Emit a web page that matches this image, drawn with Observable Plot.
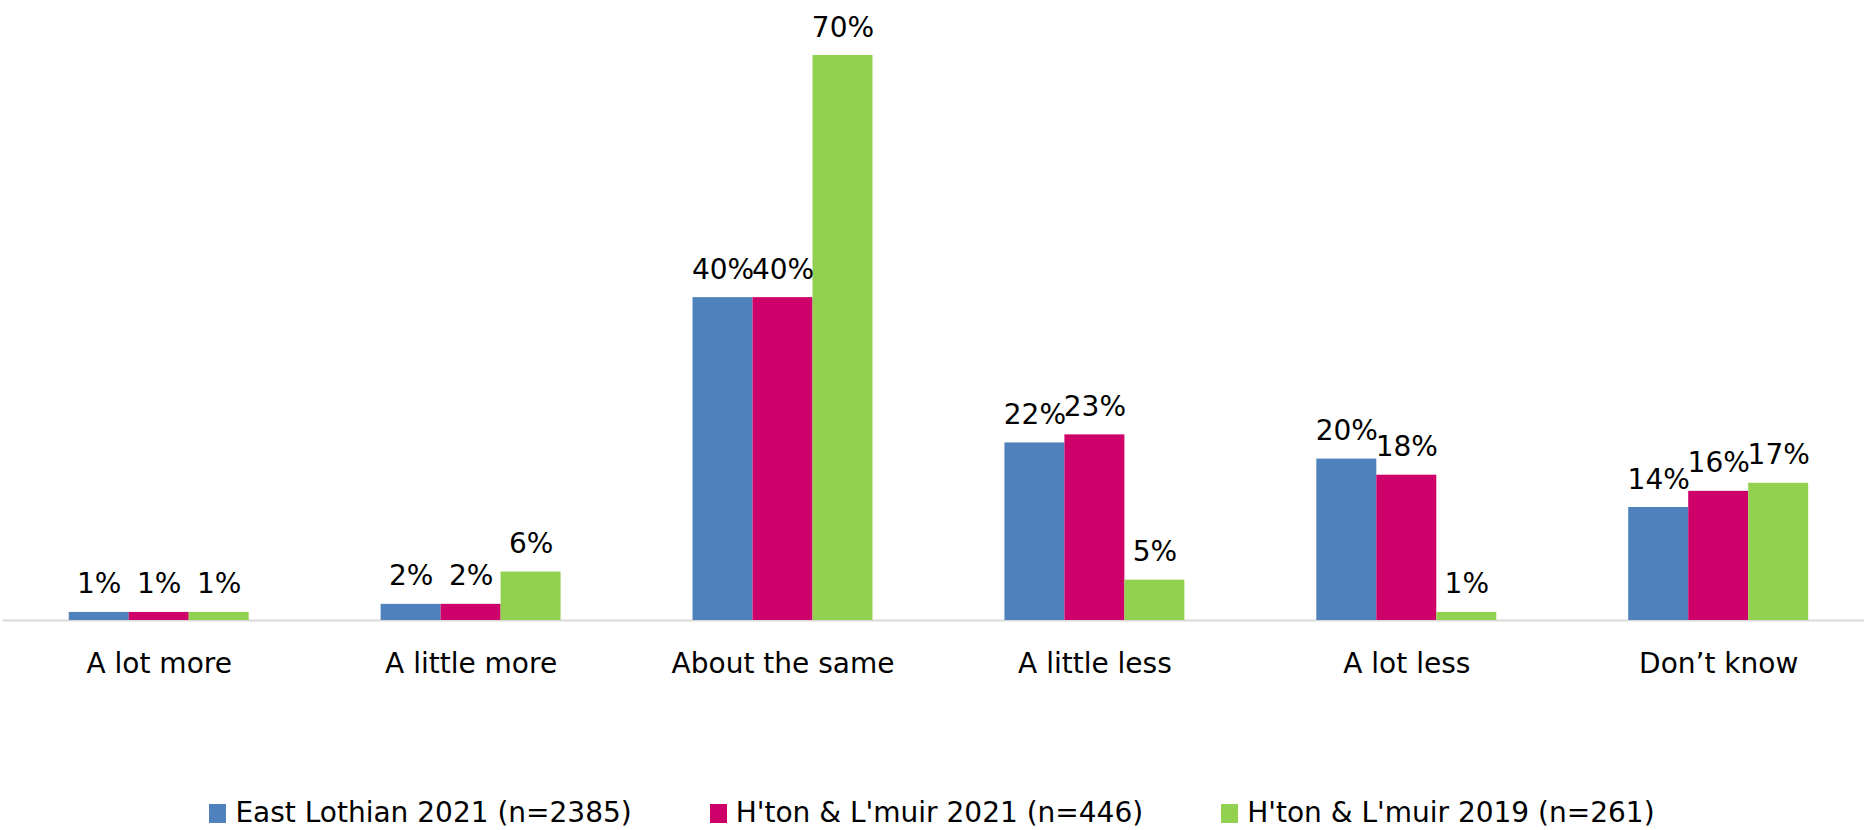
<!DOCTYPE html>
<html><head><meta charset="utf-8">
<script src="https://cdn.jsdelivr.net/npm/d3@7"></script>
<script src="https://cdn.jsdelivr.net/npm/@observablehq/plot@0.6"></script>
<style>
body{margin:0;background:#fff;font-family:"DejaVu Sans",sans-serif;}
#wrap{position:relative;width:1864px;height:830px;overflow:hidden;}
#legend{position:absolute;left:0;top:797px;width:1864px;display:flex;justify-content:center;gap:78px;font-size:28px;line-height:32px;color:#000;}
.item{display:flex;align-items:center;white-space:nowrap;}
.sw{width:17px;height:19px;margin-right:9px;}
</style></head><body><div id="wrap"></div>
<script>
const categories = ["A lot more", "A little more", "About the same", "A little less", "A lot less", "Don’t know"];
const seriesNames = ["East Lothian 2021 (n=2385)", "H'ton & L'muir 2021 (n=446)", "H'ton & L'muir 2019 (n=261)"];
const eastLothian2021 = [1, 2, 40, 22, 20, 14];
const hton2021 = [1, 2, 40, 23, 18, 16];
const hton2019 = [1, 6, 70, 5, 1, 17];
const colors = ["#4F81BD", "#CE006A", "#92D050"];

const seriesValues = [eastLothian2021, hton2021, hton2019];
const data = [];
categories.forEach((c, i) => {
  seriesValues.forEach((arr, j) => data.push({category: c, series: seriesNames[j], value: arr[i]}));
});

const chart = Plot.plot({
  width: 1864, height: 700,
  marginTop: 55, marginBottom: 80, marginLeft: 2, marginRight: 0,
  style: {fontFamily: "DejaVu Sans", fontSize: "28px", color: "#000", background: "#fff", overflow: "visible"},
  fx: {domain: categories, range: [2.75, 1874.15], paddingInner: 0, paddingOuter: 0, round: false, label: null},
  x: {domain: seriesNames, paddingInner: 0, paddingOuter: 1.1, round: false, axis: null},
  y: {domain: [0, 70], axis: null},
  color: {domain: seriesNames, range: colors},
  marks: [
    Plot.ruleY([0], {stroke: "#D9D9D9", strokeWidth: 2}),
    Plot.barY(data, {fx: "category", x: "series", y: "value", fill: "series"}),
    Plot.text(data, {fx: "category", x: "series", y: "value", text: d => d.value + "%", lineAnchor: "bottom", dy: -19, fill: "#000", fontSize: 28}),
    Plot.axisFx({anchor: "bottom", tickSize: 0, tickPadding: 33, fontSize: 28, label: null, fill: "#000"})
  ]
});
const wrap = document.getElementById("wrap");
wrap.appendChild(chart);

const legend = document.createElement("div");
legend.id = "legend";
seriesNames.forEach((s, j) => {
  const item = document.createElement("div");
  item.className = "item";
  const sw = document.createElement("span");
  sw.className = "sw";
  sw.style.background = colors[j];
  const t = document.createElement("span");
  t.textContent = s;
  item.appendChild(sw); item.appendChild(t);
  legend.appendChild(item);
});
wrap.appendChild(legend);
</script>
</body></html>
